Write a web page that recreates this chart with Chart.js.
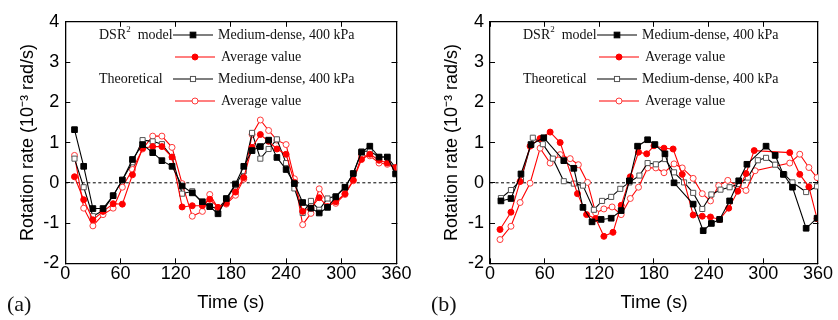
<!DOCTYPE html>
<html>
<head>
<meta charset="utf-8">
<script src="https://cdn.jsdelivr.net/npm/chart.js@4.4.0/dist/chart.umd.min.js"></script>
<style>
body{margin:0;background:#fff;width:838px;height:320px;position:relative;overflow:hidden}
.box{position:absolute;top:0;height:320px}
#boxA{left:0;width:424px}
#boxB{left:424px;width:414px}
.leg{position:absolute;font-family:"Liberation Serif","Times New Roman",serif;font-size:14px;color:#111;white-space:nowrap;line-height:16px}
.leg sup{font-size:9px;vertical-align:7px;line-height:0}
.panel{position:absolute;font-family:"Liberation Serif","Times New Roman",serif;font-size:22px;color:#111;top:291px}
</style>
</head>
<body>
<div class="box" id="boxA"><canvas id="chartA" width="424" height="320"></canvas></div>
<div class="box" id="boxB"><canvas id="chartB" width="414" height="320"></canvas></div>
<div class="panel" style="left:7px">(a)</div>
<div class="panel" style="left:431px">(b)</div>
<script>
// panel (a): all four series share one time grid
var timesA = [10,20,30,41,52,62,73,84,95,105,116,127,138,149,157,166,175,185,194,203,212,221,230,240,249,258,267,276,285,294,304,313,322,331,341,350,359]
var dsrDenseA = [1.32,0.41,-0.64,-0.64,-0.32,0.07,0.58,0.95,0.75,0.55,0.41,-0.08,-0.25,-0.47,-0.59,-0.77,-0.39,-0.03,0.41,0.8,0.9,1.06,0.63,0.33,-0.02,-0.49,-0.63,-0.75,-0.61,-0.35,-0.11,0.23,0.76,0.91,0.64,0.64,0.22]
var dsrAvgA = [0.15,-0.42,-0.92,-0.71,-0.52,-0.53,0.2,0.86,0.9,0.9,0.64,-0.6,-0.57,-0.57,-0.41,-0.61,-0.51,-0.23,0.13,0.88,1.2,1.03,0.84,0.71,0.01,-0.71,-0.63,-0.37,-0.59,-0.47,-0.27,0.07,0.58,0.71,0.56,0.49,0.38]
var theoDenseA = [0.6,-0.11,-0.83,-0.69,-0.32,0.07,0.51,1.06,1.03,0.96,0.64,-0.27,-0.21,-0.51,-0.59,-0.64,-0.41,-0.06,0.29,1.24,0.6,0.84,1.08,0.49,-0.14,-0.75,-0.45,-0.67,-0.39,-0.33,-0.11,0.23,0.78,0.79,0.64,0.64,0.37]
var theoAvgA = [0.68,-0.63,-1.07,-0.79,-0.63,-0.11,0.33,0.84,1.16,1.16,0.88,-0.02,-0.83,-0.71,-0.29,-0.63,-0.53,-0.31,0.09,1.2,1.56,1.3,1.06,0.95,0.1,-1.04,-0.76,-0.15,-0.49,-0.51,-0.29,0.05,0.67,0.67,0.49,0.46,0.37]

// panel (b): each series has its own times
var tDsrDenseB = [12,23,34,45,59,81,92,102,112,122,133,144,153,162,173,181,192,202,223,234,243,252,263,273,282,303,313,322,332,347,359]
var dsrDenseB = [-0.45,-0.39,0.22,0.95,1.12,0.55,0.36,-0.61,-0.97,-0.91,-0.88,-0.69,0.05,0.91,1.07,0.95,0.72,0.0,-0.53,-1.19,-1.01,-0.91,-0.45,0.05,0.46,0.91,0.68,0.21,-0.11,-1.13,-0.88]
var tDsrAvgB = [11,23,33,44,55,66,77,96,106,116,125,135,144,154,163,172,180,191,201,211,223,233,242,252,262,272,281,290,329,340,350,359]
var dsrAvgB = [-1.16,-0.73,0.03,0.91,1.1,1.26,1.0,-0.27,-0.79,-0.89,-1.33,-1.23,-0.56,0.15,0.76,0.72,0.92,0.86,0.84,0.21,-0.8,-0.83,-0.85,-0.91,-0.63,-0.21,0.23,0.8,0.75,0.21,-0.1,-0.89]
var tTheoDenseB = [12,23,34,47,58,69,81,92,102,114,123,133,143,153,164,173,182,192,202,213,223,233,243,253,263,273,283,294,303,313,323,332,347,359]
var theoDenseB = [-0.38,-0.18,0.07,1.12,0.96,0.6,0.04,-0.02,-0.07,-0.67,-0.45,-0.35,-0.15,0.01,0.18,0.49,0.46,0.59,0.26,0.01,-0.25,-0.65,-0.29,-0.17,-0.11,-0.03,0.13,0.56,0.62,0.45,0.21,0.01,-0.23,-0.09]
var tTheoAvgB = [11,23,33,44,55,66,77,88,97,107,116,125,134,144,154,163,173,182,191,202,211,223,233,242,251,261,271,281,291,329,340,350,359]
var theoAvgB = [-1.41,-1.08,-0.49,-0.01,0.86,0.49,0.7,0.6,0.45,0.01,-0.75,-0.65,-0.6,-0.79,-0.39,-0.11,0.37,0.37,0.25,0.47,0.37,0.11,-0.27,-0.45,-0.07,0.06,-0.07,-0.19,0.3,0.49,0.71,0.38,0.13]

var xTicks = [0,60,120,180,240,300,360]
var yTicks = [-2,-1,0,1,2,3,4]
var legendGroups = ['DSR<sup>2</sup>&nbsp; model','','Theoretical','']
var legendNames = ['Medium-dense, 400 kPa','Average value','Medium-dense, 400 kPa','Average value']

var RED = '#ff0000'
var styles = [
    {line:'#000', style:'rect', radius:4, fill:'#000', stroke:'#000'},
    {line:RED, style:'circle', radius:3, fill:RED, stroke:RED},
    {line:'#000', style:'rect', radius:3.6, fill:'#fff', stroke:'#555'},
    {line:RED, style:'circle', radius:3, fill:'#fff', stroke:'#ff3a3a'}
]

function pts(t, v){
    var out = []
    for(var i=0;i<t.length;i++) out.push({x:t[i], y:v[i]})
    return out
}

function makeSet(data, s){
    return {
        data:data, borderColor:s.line, borderWidth:1.1,
        pointStyle:s.style, pointRadius:s.radius, pointBackgroundColor:s.fill,
        pointBorderColor:s.stroke, pointBorderWidth:1, tension:0
    }
}

var FONT = "'Liberation Sans', Arial, sans-serif"

function printChart(id, series, leftW, rightW){
    var datasets = []
    for(var i=0;i<series.length;i++) datasets.push(makeSet(series[i], styles[i]))
    datasets.push({data:[{x:xTicks[0],y:0},{x:xTicks[xTicks.length-1],y:0}], borderColor:'#000', borderWidth:1, borderDash:[3,2.5], pointRadius:0})
    var tickGrid = {drawOnChartArea:false, tickLength:-5, color:'#000', lineWidth:1}
    var frame = {color:'#000', width:1.3}
    new Chart(document.getElementById(id), {
        type:'line',
        data:{datasets:datasets},
        options:{
            responsive:false, animation:false, events:[],
            layout:{padding:0},
            plugins:{legend:{display:false}, tooltip:{enabled:false}},
            scales:{
                x:{type:'linear', position:'bottom', min:0, max:360,
                   afterBuildTicks:function(s){s.ticks = xTicks.map(function(v){return {value:v}})},
                   ticks:{color:'#000', font:{family:FONT, size:18}, padding:5, maxRotation:0},
                   grid:tickGrid, border:frame,
                   title:{display:true, text:'Time (s)', color:'#000', font:{family:FONT, size:18.5, weight:'normal'}, padding:{top:0,bottom:6}},
                   afterFit:function(s){s.height=56.7}},
                xTop:{type:'linear', axis:'x', position:'top', min:0, max:360,
                   afterBuildTicks:function(s){s.ticks = xTicks.map(function(v){return {value:v}})},
                   ticks:{display:false}, grid:tickGrid, border:frame,
                   afterFit:function(s){s.height=14.3}},
                y:{type:'linear', position:'left', min:-2, max:4,
                   afterBuildTicks:function(s){s.ticks = yTicks.map(function(v){return {value:v}})},
                   ticks:{color:'#000', font:{family:FONT, size:18}, padding:11},
                   grid:tickGrid, border:frame,
                   title:{display:true, text:'Rotation rate (10⁻³ rad/s)', color:'#000', font:{family:FONT, size:18, weight:'normal'}, padding:{top:17,bottom:0}},
                   afterFit:function(s){s.width=leftW}},
                yRight:{type:'linear', axis:'y', position:'right', min:-2, max:4,
                   afterBuildTicks:function(s){s.ticks = yTicks.map(function(v){return {value:v}})},
                   ticks:{display:false}, grid:tickGrid, border:frame,
                   afterFit:function(s){s.width=rightW}}
            }
        }
    })
}

function sample(s){
    var m
    if(s.style=='rect'){
        var h = s.radius*0.707
        m = '<rect x="'+(20-h)+'" y="'+(5-h)+'" width="'+(2*h)+'" height="'+(2*h)+'" fill="'+s.fill+'" stroke="'+s.stroke+'" stroke-width="1"/>'
    } else {
        m = '<circle cx="20" cy="5" r="'+s.radius+'" fill="'+s.fill+'" stroke="'+s.stroke+'" stroke-width="1"/>'
    }
    return '<svg width="40" height="10" style="vertical-align:middle"><line x1="0" y1="5" x2="40" y2="5" stroke="'+s.line+'" stroke-width="1.1"/>'+m+'</svg>'
}

function printLegend(boxId){
    var box = document.getElementById(boxId)
    var rowsY = [35, 57, 79, 100.5]
    for(var i=0;i<4;i++){
        if(legendGroups[i]!=''){
            var g = document.createElement('div')
            g.className='leg'; g.style.left='99px'; g.style.top=(rowsY[i]-8)+'px'
            g.innerHTML = legendGroups[i]
            box.appendChild(g)
        }
        var sm = document.createElement('div')
        sm.style.position='absolute'; sm.style.left=(i%2==0?'173px':'175px'); sm.style.top=(rowsY[i]-5)+'px'; sm.style.lineHeight='0'
        sm.innerHTML = sample(styles[i])
        box.appendChild(sm)
        var n = document.createElement('div')
        n.className='leg'; n.style.left=(i%2==0?'218px':'221px'); n.style.top=(rowsY[i]-8)+'px'
        n.textContent = legendNames[i]
        box.appendChild(n)
    }
}

printChart('chartA', [pts(timesA,dsrDenseA), pts(timesA,dsrAvgA), pts(timesA,theoDenseA), pts(timesA,theoAvgA)], 65.3, 27.5)
printChart('chartB', [pts(tDsrDenseB,dsrDenseB), pts(tDsrAvgB,dsrAvgB), pts(tTheoDenseB,theoDenseB), pts(tTheoAvgB,theoAvgB)], 66, 15.7)
printLegend('boxA')
printLegend('boxB')
</script>
</body>
</html>
